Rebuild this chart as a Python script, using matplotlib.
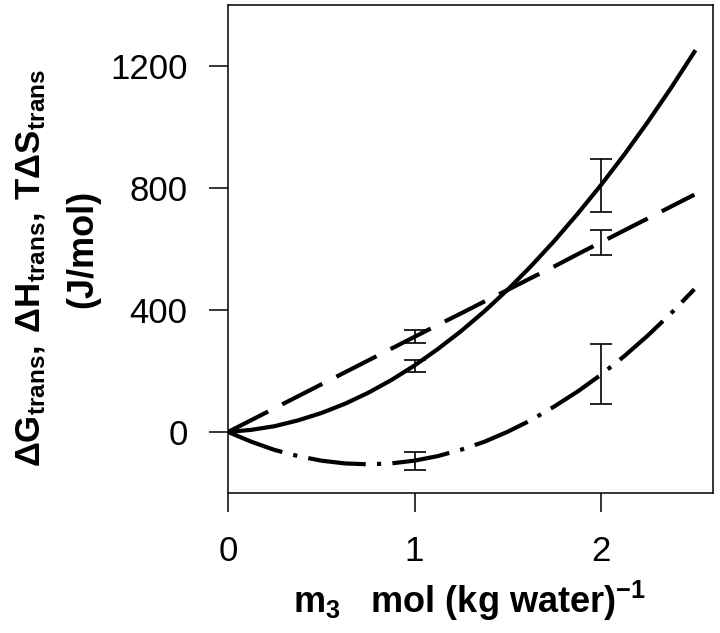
import matplotlib
matplotlib.use("Agg")
import matplotlib.pyplot as plt

plt.rcParams["font.family"] = ["Liberation Sans", "DejaVu Sans"]
plt.rcParams["mathtext.fontset"] = "custom"
plt.rcParams["mathtext.rm"] = "Liberation Sans"
plt.rcParams["mathtext.bf"] = "Liberation Sans:bold"

# molality m3, values
m3 = [0.0, 0.125, 0.25, 0.375, 0.5, 0.625, 0.75, 0.875, 1.0, 1.125, 1.25,
      1.375, 1.5, 1.625, 1.75, 1.875, 2.0, 2.125, 2.25, 2.375, 2.5]
dH = [0, 7, 19, 38, 62, 92, 128, 170, 218, 272, 331,
      396, 467, 544, 627, 716, 810, 910, 1016, 1128, 1246]      # solid
TdS = [0, 39, 78, 117, 156, 195, 234, 273, 312, 351, 389,
       428, 466, 505, 543, 583, 622, 661, 700, 739, 778]        # dashed
dG = [0, -32, -59, -79, -94, -103, -106, -103, -94, -79, -58,
      -32, 1, 39, 84, 133, 188, 249, 316, 389, 468]             # dash-dot

# measured points with error bars
m3_pts = [1.0, 2.0]
dH_pts = [215, 808]
dH_err = [20, 88]
TdS_pts = [312, 620]
TdS_err = [21, 41]
dG_pts = [-96, 190]
dG_err = [29, 98]

xticks = [0, 1, 2]
yticks = [0, 400, 800, 1200]

fig = plt.figure(figsize=(7.2, 6.33), dpi=100)
ax = fig.add_axes([0.3167, 0.2212, 0.6736, 0.771])

lw = 3
ax.plot(m3, dH, color="black", lw=lw)
ax.plot(m3, TdS, color="black", lw=lw, linestyle=(0, (10.8, 3.8)))
ax.plot(m3, dG, color="black", lw=lw, linestyle=(0, (13.9, 2.7, 1.0, 2.7)))

for y, e in [(dH_pts, dH_err), (TdS_pts, TdS_err), (dG_pts, dG_err)]:
    ax.errorbar(m3_pts, y, yerr=e, fmt="none", ecolor="black",
                elinewidth=1.2, capsize=7.8, capthick=1.2)

ax.set_xlim(0, 2.6)
ax.set_ylim(-200, 1400)
ax.set_xticks(xticks)
ax.set_yticks(yticks)
for s in ax.spines.values():
    s.set_linewidth(1.1)
ax.tick_params(axis="both", direction="out", length=14, width=1.1,
               labelsize=25)
ax.tick_params(axis="y", pad=15)
ax.tick_params(axis="x", pad=16)

fig.text(470 / 720, 1 - 613 / 633,
         r"$\mathbf{m_3}$   mol (kg water)$^{\mathbf{-1}}$",
         ha="center", va="baseline", fontsize=26, fontweight="bold")
fig.text(31 / 720, 1 - 268 / 633,
         r"$\mathbf{\Delta G_{trans},\,\Delta H_{trans},\,T\Delta S_{trans}}$",
         ha="center", va="center", rotation=90, fontsize=25,
         fontweight="bold")
fig.text(83 / 720, 1 - 249 / 633, "(J/mol)",
         ha="center", va="center", rotation=90, fontsize=26,
         fontweight="bold")

fig.savefig("out.png", dpi=100)
